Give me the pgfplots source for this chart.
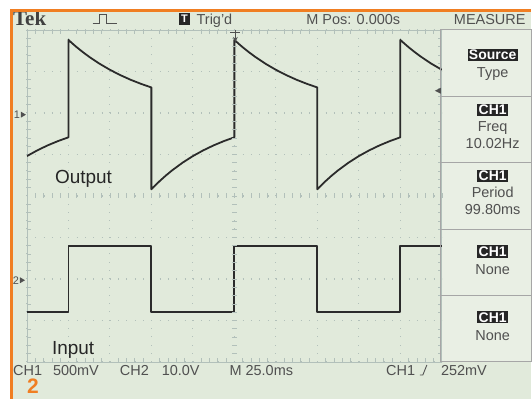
\documentclass[border=0pt]{standalone}
\usepackage{pgfplots}
\pgfplotsset{compat=1.18}
\usepackage{fontspec}
\setmainfont{Liberation Sans}
\newfontfamily\tekfont{Liberation Serif}
\usetikzlibrary{arrows.meta}

\definecolor{scr}{HTML}{E1EADB}
\definecolor{menubg}{HTML}{E9EFE4}
\definecolor{gridc}{HTML}{B2C0BA}
\definecolor{trace}{HTML}{2B2B2B}
\definecolor{txt}{HTML}{505050}
\definecolor{org}{HTML}{F07E22}

\begin{document}
\begin{tikzpicture}
% page and screen (1pt = 1px, y down)
\begin{scope}[x=1pt,y=-1pt]
\path[use as bounding box] (0,0) rectangle (532,400);
\fill[white] (0,0) rectangle (532,400);
\fill[scr] (10,9) rectangle (532,400);
\fill[menubg] (442,30) rectangle (532,362);
\end{scope}

\begin{axis}[
    at={(27pt,-363pt)}, anchor=south west,
    scale only axis, width=416pt, height=333pt,
    xmin=-5, xmax=5, ymin=-4, ymax=4,
    xtick={-5,...,5}, ytick={-4,...,4},
    xticklabels={}, yticklabels={},
    major tick length=0pt,
    minor x tick num=4, minor y tick num=4,
    minor tick length=4pt, tick align=inside,
    tick style={gridc, line width=0.6pt},
    grid=major,
    major grid style={gridc, line width=1.2pt, dash pattern=on 0.8pt off 7.52pt},
    axis line style={gridc, line width=0.6pt},
]
% CH1 output (high-pass filtered square wave)
\addplot[trace, line width=1.8pt, line join=round] coordinates {
    (-5,0.961)(-4.75,1.099)(-4.5,1.219)(-4.25,1.323)(-4,1.413)
    (-4,3.76)(-3.9,3.670)(-3.8,3.584)(-3.65,3.464)(-3.5,3.353)(-3.25,3.186)
    (-3,3.040)(-2.75,2.912)(-2.5,2.799)(-2.25,2.701)(-2,2.614)
    (-2,0.16)(-1.9,0.262)(-1.8,0.359)(-1.65,0.494)(-1.5,0.617)(-1.25,0.801)
    (-1,0.961)(-0.75,1.099)(-0.5,1.219)(-0.25,1.323)(0,1.413)
    (0,3.76)(0.1,3.670)(0.2,3.584)(0.35,3.464)(0.5,3.353)(0.75,3.186)
    (1,3.040)(1.25,2.912)(1.5,2.799)(1.75,2.701)(2,2.614)
    (2,0.16)(2.1,0.262)(2.2,0.359)(2.35,0.494)(2.5,0.617)(2.75,0.801)
    (3,0.961)(3.25,1.099)(3.5,1.219)(3.75,1.323)(4,1.413)
    (4,3.76)(4.1,3.670)(4.2,3.584)(4.35,3.464)(4.5,3.353)(4.75,3.186)(5,3.040)
};
% CH2 input square wave
\addplot[trace, line width=1.8pt, line join=round] coordinates {
    (-5,-2.79)(-4,-2.79)(-4,-1.21)(-2,-1.21)(-2,-2.79)(0,-2.79)
    (0,-1.21)(2,-1.21)(2,-2.79)(4,-2.79)(4,-1.21)(5,-1.21)
};
\end{axis}

\begin{scope}[x=1pt,y=-1pt,
    every node/.style={text=txt, inner sep=0pt,
        font=\fontsize{14.5}{16}\selectfont}]
% centre graticule ticks
\foreach \i in {-25,...,25} \draw[gridc, line width=0.6pt] (235+\i*8.32,194) -- ++(0,5);
\foreach \i in {-20,...,20} \draw[gridc, line width=0.6pt] (232.5,196.5+\i*8.32) -- ++(5,0);

% menu boxes
\foreach \a/\b in {30/97,97/163,163/230,230/296,296/362}
    \draw[gray!70, line width=0.9pt] (442,\a) rectangle (533,\b);

\tikzset{hl/.style={fill=black!85, text=white, inner sep=1.2pt,
    font=\fontsize{14}{15}\bfseries}}
\node[hl, anchor=base] at (494,60) {Source};
\node[anchor=base] at (494,78) {Type};
\node[hl, anchor=base] at (494,115) {CH1};
\node[anchor=base] at (494,132) {Freq};
\node[anchor=base] at (494,149) {10.02Hz};
\node[hl, anchor=base] at (494,181) {CH1};
\node[anchor=base] at (494,198) {Period};
\node[anchor=base] at (494,215) {99.80ms};
\node[hl, anchor=base] at (494,257) {CH1};
\node[anchor=base] at (494,275) {None};
\node[hl, anchor=base] at (494,323) {CH1};
\node[anchor=base] at (494,341) {None};

% header
\node[anchor=base west, text=black!75, font=\tekfont\fontsize{21}{22}\bfseries] at (13,26) {Tek};
\draw[txt, line width=0.9pt] (93,24) -- (100,24) -- (100,14) -- (107,14) -- (107,24) -- (117,24);
\node[fill=black!85, text=white, minimum size=12pt, font=\fontsize{11}{12}\bfseries] at (185,19) {T};
\node[anchor=base west] at (197,25) {Trig'd};
\node[anchor=base west] at (307,25) {M Pos: 0.000s};
\node[anchor=base west] at (455,25) {MEASURE};

% footer
\node[anchor=base west] at (13,377) {CH1};
\node[anchor=base west] at (53,377) {500mV};
\node[anchor=base west] at (120,377) {CH2};
\node[anchor=base west] at (162,377) {10.0V};
\node[anchor=base west] at (230,377) {M 25.0ms};
\node[anchor=base west] at (387,377) {CH1};
\draw[txt, line width=0.9pt] (421,376) -- (424,376) -- (428,366);
\node[anchor=base west] at (442,377) {252mV};

% channel and trigger markers
\node[font=\fontsize{11}{12}\selectfont] at (17,115) {1};
\fill[txt] (21,112) -- (26,115) -- (21,118) -- cycle;
\node[font=\fontsize{11}{12}\selectfont] at (16,281) {2};
\fill[txt] (20,278) -- (25,281) -- (20,284) -- cycle;
\fill[txt] (436,91) -- (442,88) -- (442,94) -- cycle;
\draw[txt, line width=0.9pt] (231,33) -- (241,33);
\draw[txt, line width=0.9pt, -{Stealth[length=5pt,width=5pt]}] (236,30) -- (236,42);

% labels
\node[anchor=base west, text=black!85, font=\fontsize{19}{21}\selectfont] at (55,184) {Output};
\node[anchor=base west, text=black!85, font=\fontsize{19}{21}\selectfont] at (52,355) {Input};

% orange frame
\fill[org] (10,9) rectangle (532,12);
\fill[org] (10,9) rectangle (13,400);
\node[anchor=base west, text=org, font=\fontsize{21}{22}\bfseries] at (27,395) {2};
\end{scope}
\end{tikzpicture}
\end{document}
